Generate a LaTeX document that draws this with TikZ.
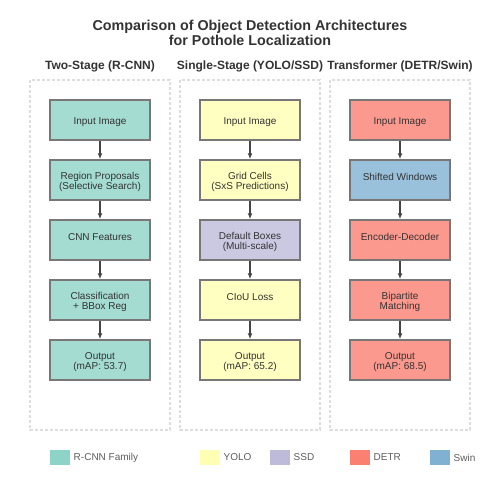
\documentclass[tikz,border=0pt]{standalone}
\usepackage{fontspec}
\setmainfont{Liberation Sans}
\usetikzlibrary{arrows.meta}
\definecolor{rcnn}{HTML}{8DD3C7}
\definecolor{yolo}{HTML}{FFFFB3}
\definecolor{ssd}{HTML}{BEBADA}
\definecolor{detr}{HTML}{FB8072}
\definecolor{swin}{HTML}{80B1D3}
\definecolor{txtgray}{HTML}{333333}
\definecolor{linegray}{HTML}{777777}
\definecolor{arrowgray}{HTML}{444444}
\definecolor{framegray}{HTML}{DDDDDD}
\begin{document}
\begin{tikzpicture}[
	x=1pt, y=-1pt,
	every node/.style={text=txtgray},
	stagebox/.style={shape=rectangle, draw=linegray, line width=1.5pt, minimum width=100pt, minimum height=40pt, inner sep=1pt, align=center, text height=0pt, text depth=0pt, font=\fontsize{10}{10}\selectfont},
	inputbox/.style={text height=9pt},
	twoline/.style={text height=19pt},
	rcnnbox/.style={stagebox, fill=rcnn!80!white},
	yolobox/.style={stagebox, fill=yolo!80!white},
	ssdbox/.style={stagebox, fill=ssd!80!white},
	detrbox/.style={stagebox, fill=detr!80!white},
	swinbox/.style={stagebox, fill=swin!80!white},
	flow/.style={draw=arrowgray, line width=1.5pt, -{Latex[length=6pt, width=5pt]}},
	colframe/.style={draw=framegray, line width=1.5pt, dash pattern=on 3pt off 2pt},
	colhead/.style={font=\bfseries\fontsize{12}{12}\selectfont},
	keybox/.style={shape=rectangle, minimum width=20pt, minimum height=15pt, inner sep=0pt, label distance=1.5pt},
	keytext/.style={font=\fontsize{10}{10}\selectfont, text=txtgray!80!white},
]
\useasboundingbox (0,0) rectangle (500,500);

% title
\node[font=\bfseries\fontsize{14.3}{15}\selectfont, align=center] (title) at (250,32.5) {Comparison of Object Detection Architectures\\for Pothole Localization};

% column frames and headers
\draw[colframe] (30,80) rectangle (170,430);
\draw[colframe] (180,80) rectangle (320,430);
\draw[colframe] (330,80) rectangle (470,430);
\node[colhead] (headrcnn) at (100,66) {Two-Stage (R-CNN)};
\node[colhead] (headyolo) at (250,66) {Single-Stage (YOLO/SSD)};
\node[colhead] (headdetr) at (400,66) {Transformer (DETR/Swin)};

% two-stage
\node[rcnnbox, inputbox] (rc1) at (100,120) {Input Image};
\node[rcnnbox, twoline] (rc2) at (100,180) {Region Proposals\\(Selective Search)};
\node[rcnnbox] (rc3) at (100,240) {CNN Features};
\node[rcnnbox, twoline] (rc4) at (100,300) {Classification\\+ BBox Reg};
\node[rcnnbox, twoline] (rc5) at (100,360) {Output\\(mAP: 53.7)};
\draw[flow] (rc1) -- (rc2);
\draw[flow] (rc2) -- (rc3);
\draw[flow] (rc3) -- (rc4);
\draw[flow] (rc4) -- (rc5);

% single-stage
\node[yolobox, inputbox] (ss1) at (250,120) {Input Image};
\node[yolobox, twoline] (ss2) at (250,180) {Grid Cells\\(SxS Predictions)};
\node[ssdbox, twoline] (ss3) at (250,240) {Default Boxes\\(Multi-scale)};
\node[yolobox] (ss4) at (250,300) {CIoU Loss};
\node[yolobox, twoline] (ss5) at (250,360) {Output\\(mAP: 65.2)};
\draw[flow] (ss1) -- (ss2);
\draw[flow] (ss2) -- (ss3);
\draw[flow] (ss3) -- (ss4);
\draw[flow] (ss4) -- (ss5);

% transformer
\node[detrbox, inputbox] (tr1) at (400,120) {Input Image};
\node[swinbox] (tr2) at (400,180) {Shifted Windows};
\node[detrbox] (tr3) at (400,240) {Encoder-Decoder};
\node[detrbox, twoline] (tr4) at (400,300) {Bipartite\\Matching};
\node[detrbox, twoline] (tr5) at (400,360) {Output\\(mAP: 68.5)};
\draw[flow] (tr1) -- (tr2);
\draw[flow] (tr2) -- (tr3);
\draw[flow] (tr3) -- (tr4);
\draw[flow] (tr4) -- (tr5);

% legend
\node[keybox, fill=rcnn, label={[keytext]right:R-CNN Family}] (keyrcnn) at (60,457.5) {};
\node[keybox, fill=yolo, label={[keytext]right:YOLO}] (keyyolo) at (210,457.5) {};
\node[keybox, fill=ssd, label={[keytext]right:SSD}] (keyssd) at (280,457.5) {};
\node[keybox, fill=detr, label={[keytext]right:DETR}] (keydetr) at (360,457.5) {};
\node[keybox, fill=swin, label={[keytext]right:Swin}] (keyswin) at (440,457.5) {};
\end{tikzpicture}
\end{document}
